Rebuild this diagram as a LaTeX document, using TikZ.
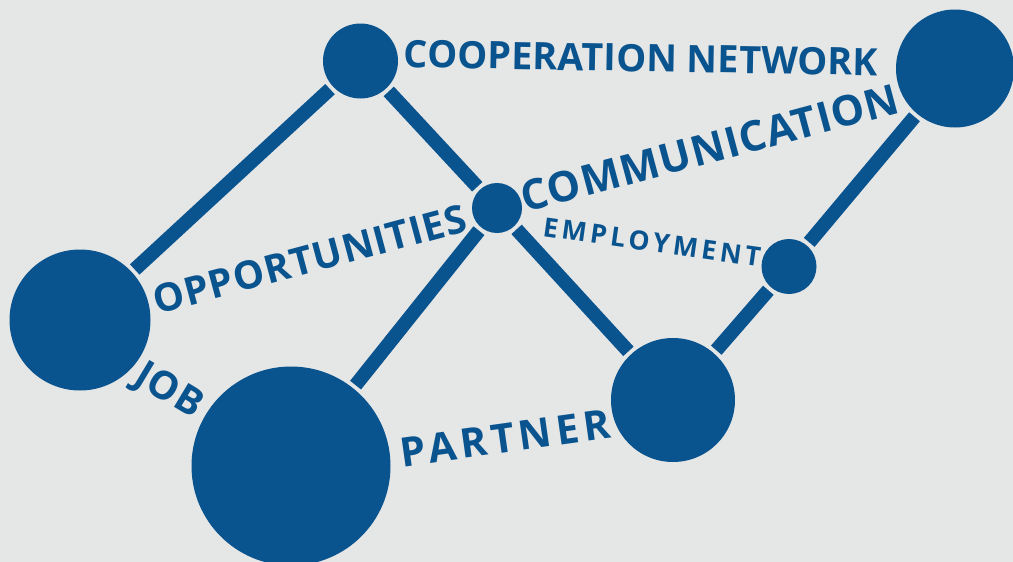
\documentclass[tikz,border=0pt]{standalone}
\usepackage{fontspec}
\setmainfont{Open Sans}
\newfontfamily\tagfont{Open Sans}
\definecolor{netblue}{RGB}{9,83,142}
\definecolor{paper}{RGB}{229,230,230}

\begin{document}
\begin{tikzpicture}[x=1pt, y=-1pt, line width=14pt, netblue,
  hub/.style={circle, fill=netblue, inner sep=0pt, minimum size=#1},
  tag/.style={text=netblue, inner sep=0pt, font=\tagfont\bfseries\fontsize{#1}{#1}\selectfont},
  spread/.style={execute at begin node={\addfontfeatures{LetterSpace=#1}}},
  every edge/.append style={shorten <=-3pt, shorten >=-3pt}]
  \fill [paper] (0,0) rectangle (1013,562);
  \useasboundingbox (0,0) rectangle (1013,562);
  \clip (0,0) rectangle (1013,562);

  % hubs (minimum size = diameter)
  \node [hub=75pt]  (coop)  at (360.5,61) {};
  \node [hub=50pt]  (opp)   at (497,208)  {};
  \node [hub=118pt] (comm)  at (955,68.5) {};
  \node [hub=55pt]  (empl)  at (789,266.5) {};
  \node [hub=141pt] (job)   at (80,320)   {};
  \node [hub=199pt] (partn) at (291,466)  {};
  \node [hub=124pt] (mid)   at (673,400)  {};

  % links
  \path (job) edge (coop);
  \path (coop) edge (opp);
  \path (opp) edge (mid);
  \path (opp) edge (partn);
  \path (mid) edge (empl);
  \path (empl) edge (comm);

  % words
  \node [tag=37.8, spread=0.4, rotate=-1] (coopname) at (641,58) {COOPERATION NETWORK};
  \node [tag=42, spread=2.4, rotate=15] (commname) at (710,148) {COMMUNICATION};
  \node [tag=26.6, spread=14, rotate=-8] (emplname) at (652,242) {EMPLOYMENT};
  \node [tag=39, spread=2.3, rotate=15] (oppname) at (310,259) {OPPORTUNITIES};
  \node [tag=39, spread=2, rotate=-31] (jobname) at (168,392) {JOB};
  \node [tag=40.6, spread=11, rotate=8] (partname) at (505,438) {PARTNER};
\end{tikzpicture}
\end{document}
